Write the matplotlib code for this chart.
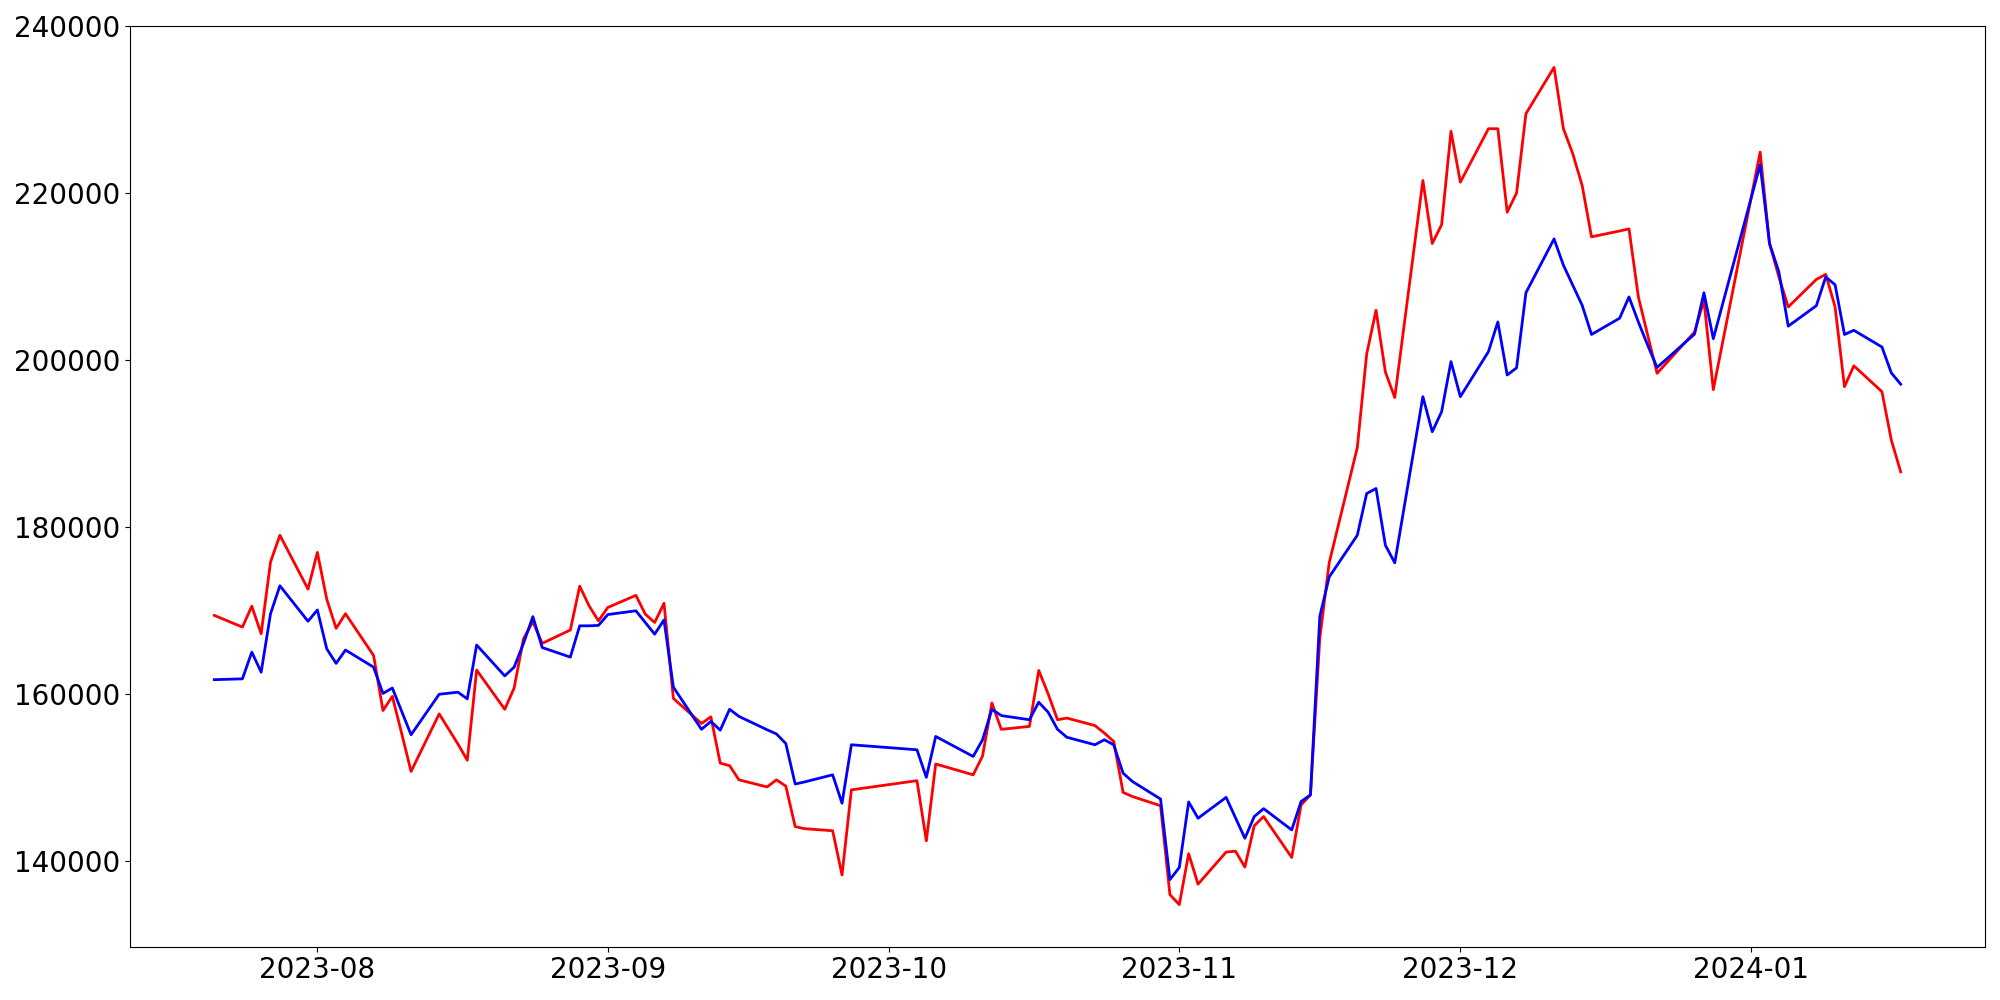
import matplotlib
matplotlib.use("Agg")
import matplotlib.pyplot as plt
import pandas as pd

# Trading days (KRX calendar: weekdays minus market holidays)
holidays = ["2023-08-15", "2023-09-28", "2023-09-29", "2023-10-02", "2023-10-03",
            "2023-10-09", "2023-12-25", "2023-12-29", "2024-01-01"]
dates = pd.bdate_range("2023-07-21", "2024-01-17")
dates = dates[~dates.isin(pd.to_datetime(holidays))]

red_values = [
    # Jul
    169400, 168000, 170500, 167200, 175800, 179000, 172550,
    # Aug
    176950, 171350, 167850, 169600, 164600, 158000, 159700, 155250, 150700, 157600,
    154000, 152050, 162850, 158150, 160700, 166600, 168650, 166050, 167650, 172900,
    170550, 168750,
    # Sep
    170350, 171800, 169550, 168550, 170850, 159450, 156450, 157250, 151700, 151400,
    149700, 148850, 149700, 148950, 144100, 143850, 143600, 138300, 148500,
    # Oct
    149600, 142400, 151600, 150300, 152550, 158900, 155750, 156100, 162800, 160000,
    156900, 157100, 156200, 155300, 154300, 148200, 147700, 146600, 135950,
    # Nov
    134750, 140850, 137200, 141050, 141150, 139250, 144200, 145300, 140400, 146700,
    147900, 166700, 175700, 189500, 200700, 205950, 198550, 195500, 221500, 213950,
    216200, 227400,
    # Dec
    221300, 227700, 227700, 217700, 220000, 229500, 235050, 227700, 224700, 220900,
    214750, 215450, 215700, 207550, 202950, 198400, 203350, 207150, 196450,
    # Jan
    224900, 213950, 209950, 206350, 209650, 210250, 206350, 196800, 199300, 196200,
    190400, 186600,
]

blue_values = [
    # Jul
    161700, 161800, 165000, 162600, 169600, 172950, 168700,
    # Aug
    170050, 165400, 163650, 165250, 163200, 160050, 160700, 157900, 155100, 159950,
    160200, 159400, 165850, 162150, 163200, 166050, 169250, 165550, 164400, 168150,
    168150, 168200,
    # Sep
    169500, 169950, 168550, 167150, 168850, 160800, 155750, 156700, 155650, 158150,
    157300, 155700, 155200, 154050, 149200, 149450, 150300, 146900, 153900,
    # Oct
    153300, 150000, 154900, 152500, 154500, 158150, 157400, 156900, 159000, 157800,
    155750, 154800, 153900, 154500, 153900, 150500, 149500, 147400, 137750,
    # Nov
    139200, 147050, 145100, 147600, 145150, 142700, 145300, 146250, 143700, 147100,
    147900, 169300, 174000, 179000, 184000, 184600, 177800, 175700, 195600, 191400,
    193800, 199800,
    # Dec
    195600, 201000, 204550, 198200, 199050, 208050, 214500, 211350, 208950, 206550,
    203050, 205000, 207550, 204550, 201750, 199100, 203100, 208050, 202550,
    # Jan
    223400, 213950, 210550, 204050, 206500, 209950, 209000, 203050, 203550, 201550,
    198450, 197100,
]

n = min(len(dates), len(red_values), len(blue_values))

fig, ax = plt.subplots(figsize=(20, 10), dpi=100)
ax.plot(dates[:n], red_values[:n], color="red", linewidth=2)
ax.plot(dates[:n], blue_values[:n], color="blue", linewidth=2)
ax.tick_params(axis="both", labelsize=20)
fig.subplots_adjust(left=0.065, right=0.9925, bottom=0.0535, top=0.9745)
fig.savefig("out.png", dpi=100)
print(len(dates), len(red_values), len(blue_values))
